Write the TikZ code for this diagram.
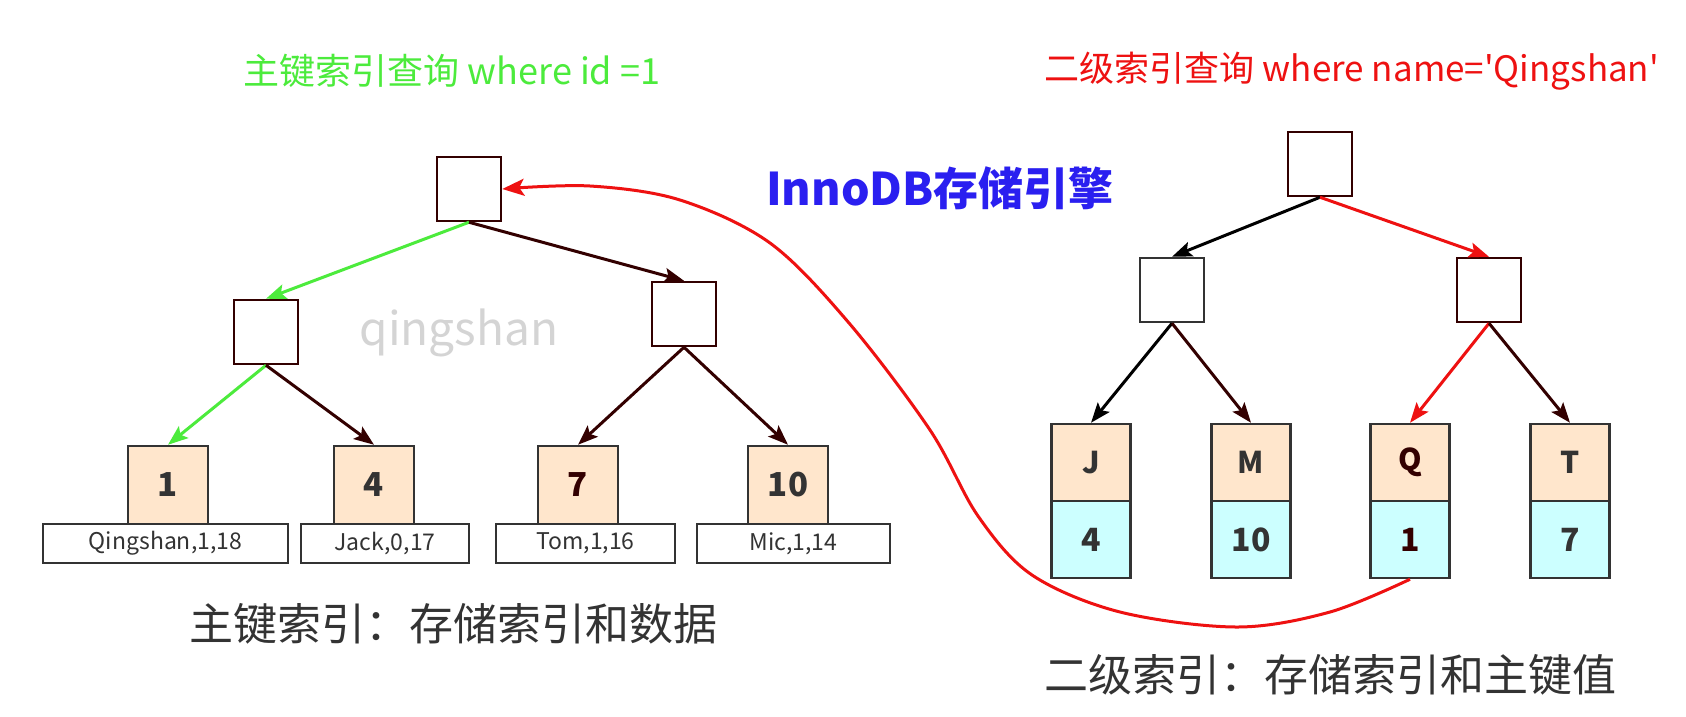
\documentclass[tikz,border=0pt]{standalone}
\usepackage{fontspec}
\setmainfont{Noto Sans CJK SC}
\newfontfamily\plainfont{Noto Sans CJK SC}
\usetikzlibrary{arrows.meta}
\definecolor{brn}{HTML}{330000}
\definecolor{grn}{HTML}{4CEB3C}
\definecolor{rd}{HTML}{EE1111}
\definecolor{blu}{HTML}{2A1FF0}
\definecolor{peach}{HTML}{FFE6CC}
\definecolor{cyanf}{HTML}{CCFFFF}
\definecolor{txt}{HTML}{333333}
\definecolor{wm}{HTML}{D4D4D4}
\begin{document}
\begin{tikzpicture}[x=1pt,y=-1pt,
  inode/.style={draw=brn, line width=2.5pt, fill=white, minimum width=64pt, minimum height=64pt, inner sep=0pt},
  leafbox/.style={draw=txt, line width=2.5pt, fill=peach, minimum width=80pt, minimum height=78pt, inner sep=0pt, font=\fontsize{33}{38}\selectfont\bfseries, text=txt},
  keybox/.style={draw=txt, line width=2.5pt, fill=peach, minimum width=79pt, minimum height=77pt, inner sep=0pt, font=\fontsize{30}{34}\selectfont\bfseries, text=txt},
  valbox/.style={draw=txt, line width=2.5pt, fill=cyanf, minimum width=79pt, minimum height=77pt, inner sep=0pt, font=\fontsize{32}{36}\selectfont\bfseries, text=txt},
  databox/.style={draw=txt, line width=2.5pt, fill=white, minimum height=39pt, inner sep=0pt, font=\fontsize{23}{26}\selectfont, text=txt},
  edge/.style={line width=3pt, -{Stealth[length=20pt,width=15pt,inset=4pt]}},
  caption/.style={font=\fontsize{44}{50}\selectfont, text=txt}
]
\useasboundingbox (0,0) rectangle (1686,716);
\fill[white] (0,0) rectangle (1686,716);

% titles
\node[font=\fontsize{36}{42}\selectfont, text=grn] (t1) at (452,71) {主键索引查询 where id =1};
\node[font=\plainfont\fontsize{35}{41}\selectfont, text=rd] (t2) at (1352,71) {二级索引查询 where name='Qingshan'};
\node[font=\fontsize{45}{52}\selectfont\bfseries, text=blu] (t3) at (940,188) {InnoDB存储引擎};
\node[font=\fontsize{46}{52}\selectfont, text=wm] (wq) at (459,333) {qingshan};

% left tree
\node[inode] (lroot) at (469,189) {};
\node[inode] (l1) at (266,332) {};
\node[inode] (r1) at (684,314) {};
\node[leafbox] (k1) at (168,485) {1};
\node[leafbox] (k4) at (374,485) {4};
\node[leafbox, text=brn] (k7) at (578,485) {7};
\node[leafbox] (k10) at (788,485) {10};
\node[databox, minimum width=245pt] (d1) at (165.5,543.5) {Qingshan,1,18};
\node[databox, minimum width=168pt] (d4) at (385,543.5) {Jack,0,17};
\node[databox, minimum width=179pt] (d7) at (585.5,543.5) {Tom,1,16};
\node[databox, minimum width=193pt] (d10) at (793.5,543.5) {Mic,1,14};

\draw[edge, grn] (lroot.south) -- (l1.north);
\draw[edge, brn] (lroot.south) -- (r1.north);
\draw[edge, grn] (l1.south) -- (k1.north);
\draw[edge, brn] (l1.south) -- (k4.north);
\draw[edge, brn] (r1.south) -- (k7.north);
\draw[edge, brn] (r1.south) -- (k10.north);

% right tree
\node[inode] (rroot) at (1320,164) {};
\node[inode, draw=txt] (rl) at (1172,290) {};
\node[inode] (rr) at (1489,290) {};
\node[keybox] (kj) at (1091,462.5) {J};
\node[valbox] (vj) at (1091,539.5) {4};
\node[keybox] (km) at (1251,462.5) {M};
\node[valbox] (vm) at (1251,539.5) {10};
\node[keybox, text=brn] (kq) at (1410,462.5) {Q};
\node[valbox, text=brn] (vq) at (1410,539.5) {1};
\node[keybox] (kt) at (1570,462.5) {T};
\node[valbox] (vt) at (1570,539.5) {7};

\draw[edge, black] (rroot.south) -- (rl.north);
\draw[edge, rd] (rroot.south) -- (rr.north);
\draw[edge, black] (rl.south) -- (kj.north);
\draw[edge, brn] (rl.south) -- (km.north);
\draw[edge, rd] (rr.south) -- (kq.north);
\draw[edge, brn] (rr.south) -- (kt.north);

% red back-link
\draw[rd, line width=3pt, -{Stealth[length=22pt,width=17pt,inset=5pt]}]
  plot[smooth, tension=0.55] coordinates {(vq.south) (1330,612) (1237,627) (1120,612) (1032,575) (978,516) (930,430) (849,323) (770,243) (680,200) (590,186) (lroot.east)};

% captions
\node[caption] (c1) at (453,624) {主键索引：存储索引和数据};
\node[caption] (c2) at (1330,675) {二级索引：存储索引和主键值};
\end{tikzpicture}
\end{document}
